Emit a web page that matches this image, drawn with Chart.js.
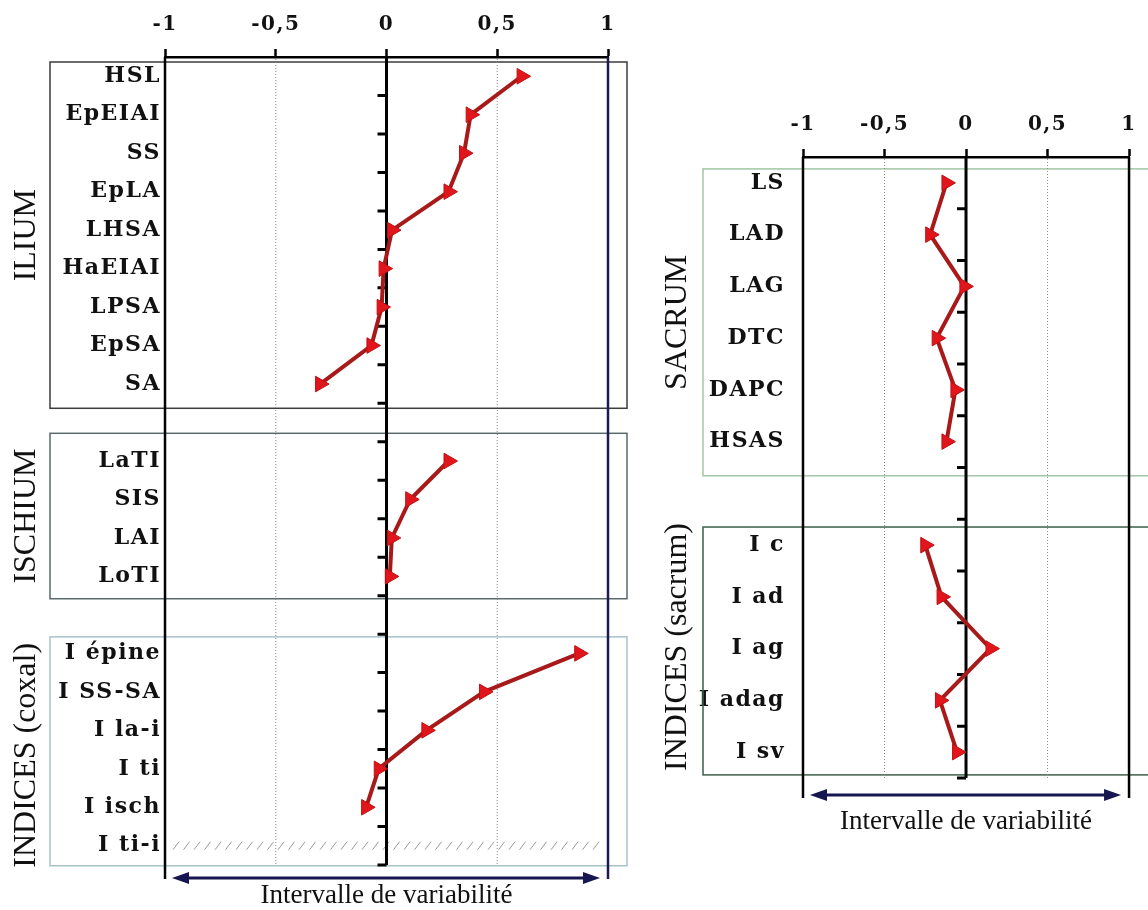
<!DOCTYPE html>
<html>
<head>
<meta charset="utf-8">
<script src="https://cdn.jsdelivr.net/npm/chart.js@4.4.1/dist/chart.umd.min.js"></script>
<style>
  html, body { margin:0; padding:0; background:#fff; }
  body { width:1148px; height:910px; position:relative; overflow:hidden; }
  .wrap { position:absolute; top:0; }
  canvas { display:block; }
</style>
</head>
<body>
<div class="wrap" style="left:0;"><canvas id="left" width="640" height="910"></canvas></div>
<div class="wrap" style="left:640px;"><canvas id="right" width="508" height="910"></canvas></div>
<script>
// ---------- DATA ----------
const xTickValues = [-1, -0.5, 0, 0.5, 1];

const leftCategories = ['HSL','EpEIAI','SS','EpLA','LHSA','HaEIAI','LPSA','EpSA','SA','',
  'LaTI','SIS','LAI','LoTI','',
  'I épine','I SS-SA','I la-i','I ti','I isch','I ti-i'];
const leftValues = [0.61, 0.38, 0.35, 0.28, 0.025, -0.013, -0.022, -0.068, -0.30, null,
  0.28, 0.107, 0.024, 0.015, null,
  0.87, 0.44, 0.18, -0.035, -0.092, null];
const leftGroups = ['ILIUM', 'ISCHIUM', 'INDICES (coxal)'];
const leftNoDataRows = ['I ti-i'];

const rightCategories = ['LS','LAD','LAG','DTC','DAPC','HSAS','',
  'I c','I ad','I ag','I adag','I sv'];
const rightValues = [-0.12, -0.22, -0.01, -0.18, -0.065, -0.12, null,
  -0.25, -0.15, 0.15, -0.16, -0.055];
const rightGroups = ['SACRUM', 'INDICES (sacrum)'];

const bottomCaption = 'Intervalle de variabilité';

// ---------- LAYOUT / STYLE (not data) ----------
const leftBoxes = [
  {title: leftGroups[0], from: -0.37, to: 8.63,  color: '#3c3c3c', titleShift: 0},
  {title: leftGroups[1], from: 9.28,  to: 13.58, color: '#5a6a6a', titleShift: 0},
  {title: leftGroups[2], from: 14.57, to: 20.52, color: '#a8c2ca', titleShift: 4}
];
const rightBoxes = [
  {title: rightGroups[0], from: -0.27, to: 5.66,  color: '#a5c6a5', titleShift: 0},
  {title: rightGroups[1], from: 6.65,  to: 11.44, color: '#3e5e4a', titleShift: -4}
];

const LABEL_FONT = '"DejaVu Serif", serif';
const LABEL_SPACING = '1.5px';
const LINE_COLOR = '#a81a1a';
const MARK_COLOR = '#e0161c';

function decorPlugin(cfg) {
  return {
    id: 'decor',
    beforeDraw(chart) { chart.ctx.letterSpacing = LABEL_SPACING; },
    beforeDatasetsDraw(chart) {
      const ctx = chart.ctx;
      const xs = chart.scales.x, ys = chart.scales.y;
      const area = chart.chartArea;
      ctx.save();
      ctx.letterSpacing = '0px';
      // group boxes
      cfg.boxes.forEach(b => {
        const top = ys.getPixelForValue(b.from), bot = ys.getPixelForValue(b.to);
        ctx.strokeStyle = b.color; ctx.lineWidth = 1.5;
        ctx.strokeRect(cfg.boxLeft, top, cfg.boxRight - cfg.boxLeft, bot - top);
        // rotated title
        ctx.save();
        ctx.translate(cfg.titleX, (top + bot) / 2 + b.titleShift);
        ctx.rotate(-Math.PI / 2);
        ctx.fillStyle = '#111';
        ctx.font = '32px "Liberation Serif"';
        ctx.textAlign = 'center'; ctx.textBaseline = 'middle';
        ctx.fillText(b.title, 0, 0);
        ctx.restore();
      });
      // hatched rows (no data)
      (cfg.hatchRows || []).forEach(lbl => {
        const idx = cfg.categories.indexOf(lbl);
        const yc = ys.getPixelForValue(idx);
        ctx.strokeStyle = '#9a9a9a'; ctx.lineWidth = 1;
        ctx.beginPath();
        for (let x = xs.getPixelForValue(-1) + 8; x < xs.getPixelForValue(1) - 8; x += 10.5) {
          ctx.moveTo(x, yc + 4); ctx.lineTo(x + 6, yc - 4);
        }
        ctx.stroke();
      });
      // vertical reference lines
      const lineBottom = area.bottom + cfg.lineExtra;
      xTickValues.forEach(v => {
        const x = xs.getPixelForValue(v);
        ctx.beginPath();
        if (v === -0.5 || v === 0.5) {
          ctx.setLineDash([1, 2]); ctx.strokeStyle = '#8a8a8a'; ctx.lineWidth = 1;
          ctx.moveTo(x, area.top + 2); ctx.lineTo(x, area.bottom);
        } else {
          ctx.setLineDash([]);
          ctx.strokeStyle = (v === 1) ? cfg.oneColor : '#000';
          ctx.lineWidth = (v === 0) ? 3 : 2.5;
          ctx.moveTo(x, area.top); ctx.lineTo(x, v === 0 ? area.bottom : lineBottom);
        }
        ctx.stroke();
      });
      ctx.setLineDash([]);
      // small ticks on the zero line at category boundaries
      const x0 = xs.getPixelForValue(0);
      ctx.strokeStyle = '#000'; ctx.lineWidth = 3;
      ctx.beginPath();
      for (let i = 1; i <= cfg.categories.length; i++) {
        const y = ys.getPixelForValue(i - 0.5);
        ctx.moveTo(x0 - 9, y); ctx.lineTo(x0, y);
      }
      ctx.stroke();
      // double arrow + caption
      const ay = area.bottom + cfg.arrowExtra;
      const ax1 = xs.getPixelForValue(-1) + 7, ax2 = xs.getPixelForValue(1) - 8;
      ctx.strokeStyle = '#161650'; ctx.fillStyle = '#161650'; ctx.lineWidth = 3;
      ctx.beginPath(); ctx.moveTo(ax1 + 10, ay); ctx.lineTo(ax2 - 10, ay); ctx.stroke();
      ctx.beginPath(); ctx.moveTo(ax1, ay); ctx.lineTo(ax1 + 17, ay - 6); ctx.lineTo(ax1 + 17, ay + 6); ctx.closePath(); ctx.fill();
      ctx.beginPath(); ctx.moveTo(ax2, ay); ctx.lineTo(ax2 - 17, ay - 6); ctx.lineTo(ax2 - 17, ay + 6); ctx.closePath(); ctx.fill();
      ctx.fillStyle = '#111';
      ctx.font = cfg.captionFont;
      ctx.textAlign = 'center'; ctx.textBaseline = 'middle';
      ctx.fillText(bottomCaption, xs.getPixelForValue(0), area.bottom + cfg.captionExtra);
      ctx.restore();
    },
    afterDraw(chart) { chart.ctx.letterSpacing = '0px'; }
  };
}

function makeChart(id, categories, values, opt) {
  return new Chart(document.getElementById(id), {
    type: 'line',
    data: {
      labels: categories,
      datasets: [{
        data: values,
        borderColor: LINE_COLOR,
        borderWidth: 4,
        pointStyle: 'triangle',
        rotation: 90,
        pointRadius: 9,
        pointBackgroundColor: MARK_COLOR,
        pointBorderColor: '#c01212',
        pointBorderWidth: 1,
        spanGaps: false,
        tension: 0,
        clip: false
      }]
    },
    options: {
      responsive: false,
      animation: false,
      indexAxis: 'y',
      layout: { padding: opt.padding },
      plugins: { legend: { display: false }, tooltip: { enabled: false } },
      scales: {
        x: {
          type: 'linear', position: 'top', min: -1, max: 1,
          afterBuildTicks: s => { s.ticks = xTickValues.map(v => ({ value: v })); },
          ticks: {
            padding: 12, color: '#111',
            font: { family: LABEL_FONT, weight: 'bold', size: 20 },
            callback: v => String(v).replace('.', ',')
          },
          grid: { drawOnChartArea: false, drawTicks: true, tickLength: 8, tickColor: '#000', tickWidth: 2.5 },
          border: { display: true, color: '#000', width: 2.5 },
          afterFit: s => { s.height = 57; }
        },
        y: {
          type: 'category', offset: true,
          ticks: {
            autoSkip: false, padding: opt.labelPad, color: '#111',
            font: { family: LABEL_FONT, weight: 'bold', size: 22 }
          },
          grid: { display: false, drawTicks: false },
          border: { display: false },
          afterFit: s => { s.width = opt.axisWidth; }
        }
      }
    },
    plugins: [decorPlugin(opt.decor)]
  });
}

makeChart('left', leftCategories, leftValues, {
  padding: { left: 0, right: 32, top: 0, bottom: 45 },
  axisWidth: 165, labelPad: 4,
  decor: {
    categories: leftCategories, boxes: leftBoxes, boxLeft: 50, boxRight: 627,
    titleX: 27, hatchRows: leftNoDataRows, lineExtra: 14, arrowExtra: 13, captionExtra: 31,
    oneColor: '#1a1a55', captionFont: '27px "Liberation Serif"'
  }
});

makeChart('right', rightCategories, rightValues, {
  padding: { left: 0, right: 6, top: 100, bottom: 132 },
  axisWidth: 163, labelPad: 18,
  decor: {
    categories: rightCategories, boxes: rightBoxes, boxLeft: 63, boxRight: 520,
    titleX: 38, hatchRows: [], lineExtra: 20, arrowExtra: 17, captionExtra: 44,
    oneColor: '#000', captionFont: '27px "Liberation Serif"'
  }
});
</script>
</body>
</html>
